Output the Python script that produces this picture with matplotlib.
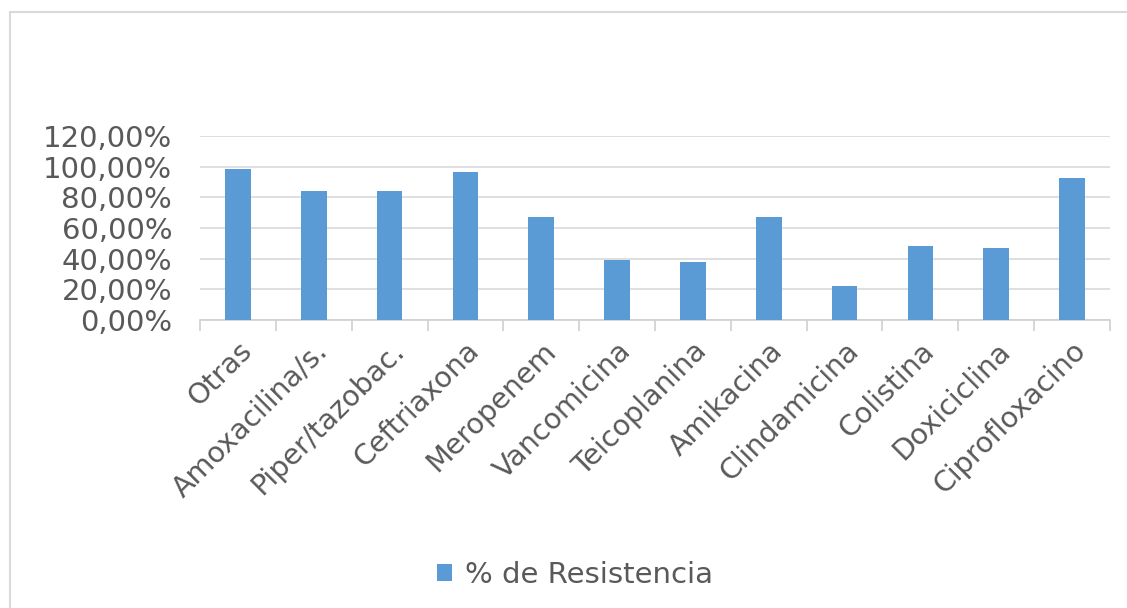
import matplotlib
matplotlib.use("Agg")
import matplotlib.pyplot as plt
from matplotlib.patches import Rectangle
from matplotlib.ticker import FuncFormatter, FixedLocator
import numpy as np

categories = ["Otras", "Amoxacilina/s.", "Piper/tazobac.", "Ceftriaxona", "Meropenem",
              "Vancomicina", "Teicoplanina", "Amikacina", "Clindamicina", "Colistina",
              "Doxiciclina", "Ciprofloxacino"]
resistencia = [98.8, 84.4, 84.4, 96.6, 67.3, 39.3, 38.0, 67.3, 22.5, 48.1, 47.0, 92.9]
series_name = "% de Resistencia"
yticks = [0, 20, 40, 60, 80, 100, 120]

W, H = 1127, 608
fig = plt.figure(figsize=(W / 100, H / 100), dpi=100)
fig.patch.set_facecolor("white")

# outer chart border
fig.patches.append(Rectangle((10 / W, -0.05), 1.2, 1 - 12 / H + 0.05, transform=fig.transFigure,
                             fill=False, edgecolor="#d9d9d9", linewidth=1.5))

ax = fig.add_axes([200 / W, 1 - 320 / H, (1110 - 200) / W, (320 - 136) / H])
x = np.arange(len(categories))
ax.bar(x, resistencia, width=0.34, color="#5b9bd5", zorder=3, label=series_name)

ax.set_xlim(-0.5, len(categories) - 0.5)
ax.set_ylim(0, 120)
ax.set_yticks(yticks)
ax.yaxis.set_major_formatter(FuncFormatter(lambda v, p: f"{v:.2f}".replace(".", ",") + "%"))
ax.grid(axis="y", color="#d9d9d9", linewidth=1.2, zorder=0)
ax.tick_params(axis="y", length=0, labelsize=21, labelcolor="#595959", pad=20)

for s in ["top", "right", "left"]:
    ax.spines[s].set_visible(False)
ax.spines["bottom"].set_color("#d0d0d0")
ax.spines["bottom"].set_linewidth(1.2)

ax.set_xticks(x)
ax.set_xticklabels(categories, rotation=45, ha="right", rotation_mode="anchor",
                   fontsize=20.5, color="#595959")
ax.tick_params(axis="x", length=0, pad=12)
ax.xaxis.set_minor_locator(FixedLocator(np.arange(-0.5, len(categories), 1.0)))
ax.tick_params(axis="x", which="minor", length=8, color="#d0d0d0", width=1.2)

leg = fig.legend(handles=ax.patches[:1], labels=[series_name], loc="center",
                 bbox_to_anchor=(575 / W, 1 - 575 / H), frameon=False, fontsize=21,
                 handlelength=0.5, handleheight=0.5, handletextpad=0.45)
for t in leg.get_texts():
    t.set_color("#595959")

fig.savefig("out.png", dpi=100)
